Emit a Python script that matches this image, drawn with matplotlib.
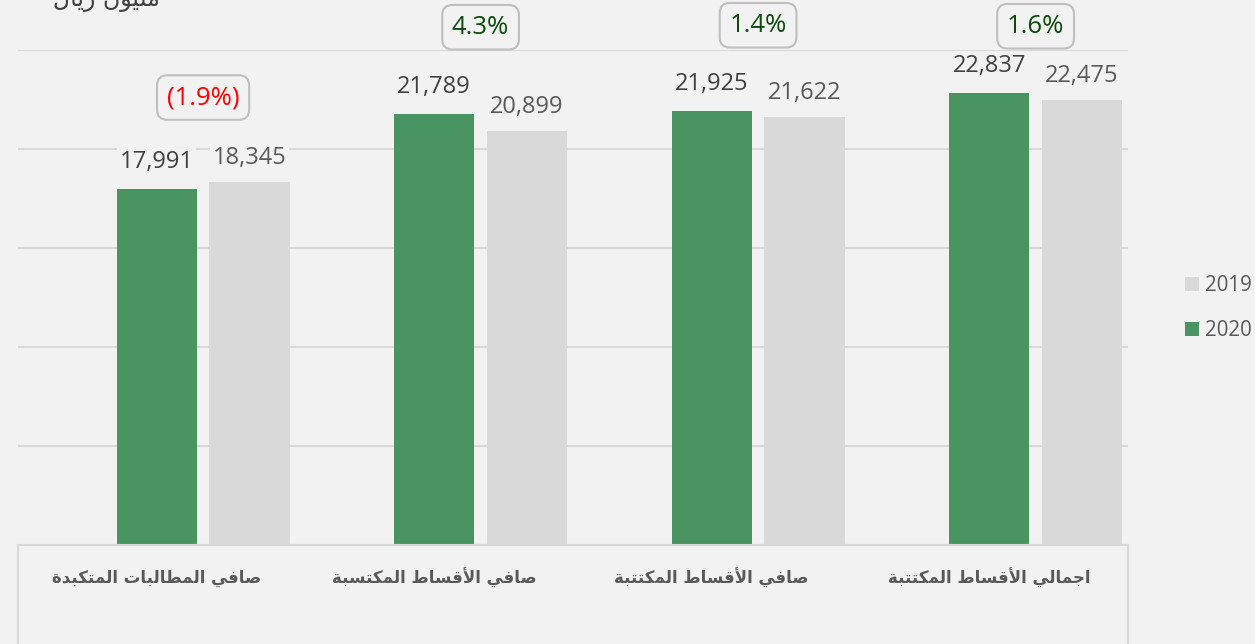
import numpy as np
import matplotlib.pyplot as plt
from matplotlib.patches import Rectangle

# ---------- Dados ----------
categories = ["صافي المطالبات المتكبدة", "صافي الأقساط المكتسبة",
              "صافي الأقساط المكتتبة", "اجمالي الأقساط المكتتبة"]
values_2020 = [17991, 21789, 21925, 22837]
values_2019 = [18345, 20899, 21622, 22475]
series_names = ["2020", "2019"]
unit_label = "مليون ريال"

# altura (em unidades do eixo) das caixas de variação
badge_y = [22600, 26150, 26250, 26200]

GREEN = "#4A9462"
GREY = "#D9D9D9"
BG = "#F2F2F2"
TXT = "#595959"

# ---------- Forma do árabe (matplotlib não faz shaping) ----------
DUAL = {'ب': 0xFE8F, 'ت': 0xFE95, 'ج': 0xFE9D, 'س': 0xFEB1, 'ص': 0xFEB9,
        'ط': 0xFEC1, 'ف': 0xFED1, 'ق': 0xFED5, 'ك': 0xFED9, 'ل': 0xFEDD,
        'م': 0xFEE1, 'ن': 0xFEE5, 'ي': 0xFEF1}
RIGHT = {'ا': 0xFE8D, 'أ': 0xFE83, 'ة': 0xFE93, 'د': 0xFEA9, 'ر': 0xFEAD, 'و': 0xFEED}
LAM_ALEF = {'ا': 0xFEFB, 'أ': 0xFEF7}


def shape_ar(s: str) -> str:
    out = []
    i = 0
    prev_joins = False
    while i < len(s):
        c = s[i]
        nxt = s[i + 1] if i + 1 < len(s) else ""
        if c == 'ل' and nxt in LAM_ALEF:
            out.append(chr(LAM_ALEF[nxt] + (1 if prev_joins else 0)))
            prev_joins = False
            i += 2
            continue
        if c in DUAL:
            joins_next = nxt in DUAL or nxt in RIGHT
            if prev_joins:
                form = 3 if joins_next else 1
            else:
                form = 2 if joins_next else 0
            out.append(chr(DUAL[c] + form))
            prev_joins = joins_next
        elif c in RIGHT:
            out.append(chr(RIGHT[c] + (1 if prev_joins else 0)))
            prev_joins = False
        else:
            out.append(c)
            prev_joins = False
        i += 1
    return "".join(reversed(out))


# ---------- Figura ----------
plt.rcParams["font.family"] = ["Open Sans", "DejaVu Sans"]
fig = plt.figure(figsize=(12.55, 6.44), dpi=100, facecolor=BG)
ax = fig.add_axes([18 / 1255, 1 - 545 / 644, 1110 / 1255, 495 / 644])
ax.set_facecolor(BG)

x = np.arange(len(categories))
w = 0.29
b20 = ax.bar(x, values_2020, width=w, color=GREEN, zorder=2, label=series_names[0])
b19 = ax.bar(x + 0.334, values_2019, width=w, color=GREY, zorder=2, label=series_names[1])

ax.set_xlim(-0.5, len(categories) - 0.5)
ax.set_ylim(0, 25000)
ax.set_yticks(np.arange(0, 25001, 5000))
ax.yaxis.grid(True, color=GREY, lw=1.5, zorder=0)
ax.tick_params(left=False, bottom=False, labelleft=False, labelbottom=False)
for s in ax.spines.values():
    s.set_visible(False)

lbl_box = dict(boxstyle="square,pad=0.1", fc=BG, ec="none")
for bars, vals, off, col in [(b20, values_2020, 15, "#404040"), (b19, values_2019, 13, TXT)]:
    for r, v in zip(bars, vals):
        ax.annotate(f"{v:,}", (r.get_x() + r.get_width() / 2, v), xytext=(0, off),
                    textcoords="offset points", ha="center", va="baseline",
                    fontsize=17, color=col, bbox=lbl_box, zorder=3)

# caixas de variação 2020 vs 2019
for i, (a, b) in enumerate(zip(values_2020, values_2019)):
    ch = (a / b - 1) * 100
    if ch < 0:
        txt, col = f"({abs(ch):.1f}%)", "#FF0000"
    else:
        txt, col = f"{ch:.1f}%", "#0B4A0B"
    ax.text(i + 0.167, badge_y[i], txt, ha="center", va="center", fontsize=18.5,
            color=col, clip_on=False, zorder=4,
            bbox=dict(boxstyle="round,pad=0.38,rounding_size=0.4", fc=BG, ec="#BFBFBF", lw=1.5))

# tabela de categorias
fig.patches.append(Rectangle((18 / 1255, -0.05), 1110 / 1255, 0.05 + 99 / 644,
                             transform=fig.transFigure, fc="none", ec=GREY, lw=1.5))
for i, c in enumerate(categories):
    fig.text((18 + 277.5 * (i + 0.5)) / 1255, 1 - 578 / 644, shape_ar(c),
             ha="center", va="center", fontsize=12, fontweight="bold",
             color=TXT, family=["DejaVu Sans"])

fig.text(106 / 1255, 1.0, shape_ar(unit_label), ha="center", va="center",
         fontsize=17, color="#404040", family=["DejaVu Sans"])

ax.legend(handles=[b19, b20], loc="center left", bbox_to_anchor=(1185 / 1255, 1 - 308 / 644),
          bbox_transform=fig.transFigure, frameon=False, fontsize=14.8,
          handlelength=0.68, handleheight=0.68, handletextpad=0.3, labelspacing=1.15,
          labelcolor=TXT, borderpad=0, borderaxespad=0)

fig.savefig("out.png", dpi=100, facecolor=BG)
